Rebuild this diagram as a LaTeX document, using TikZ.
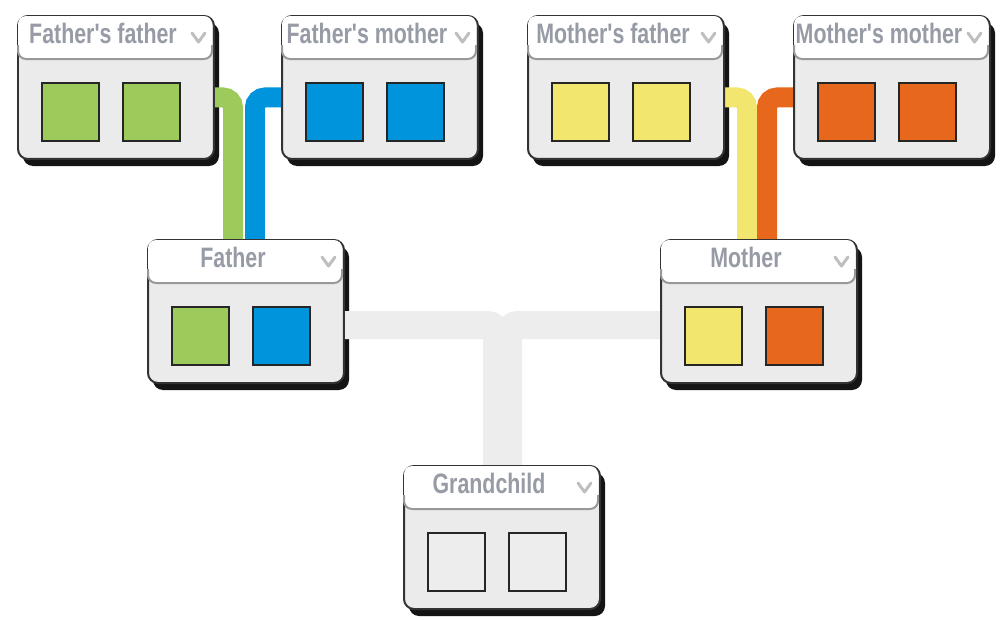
\documentclass[tikz,border=0pt]{standalone}
\usepackage{fontspec}
\newfontfamily\boxfont[FakeStretch=0.76]{Liberation Sans}
\usetikzlibrary{calc}
\pgfdeclarelayer{background}
\pgfdeclarelayer{paper}
\pgfsetlayers{paper,background,main}
\definecolor{leafgreen}{HTML}{9CCB5C}
\definecolor{skyblue}{HTML}{0094DC}
\definecolor{sunyellow}{HTML}{F2E66E}
\definecolor{rustorange}{HTML}{E7681D}
\definecolor{linkgray}{HTML}{EDEDED}
\definecolor{bodygray}{HTML}{EBEBEB}
\definecolor{labelgray}{HTML}{979BA5}
\tikzset{
  box/.style={draw=black!80, fill=bodygray, line width=0.2mm, rounded corners=1mm,
    minimum width=19.6mm, minimum height=14.3mm, inner sep=0pt, anchor=north west},
  shadowbox/.style={fill=black!92, rounded corners=1mm},
  headrule/.style={draw=black!40, line width=0.2mm, rounded corners=0.8mm},
  swatch/.style={draw=black!85, line width=0.25mm},
  caption/.style={font=\boxfont\bfseries\fontsize{8}{9}\selectfont, text=labelgray, inner sep=0pt},
  chevron/.style={draw=black!25, line width=0.3mm, line cap=round, line join=round},
  link/.style={line width=2mm, rounded corners=1mm},
}
% one person card: name, top left corner (px), label, two colours
\def\person(#1)(#2,#3)#4#5#6{%
  \begin{pgfonlayer}{background}
    \fill[shadowbox] (#2+6,#3+8) rectangle ++(196,143);
  \end{pgfonlayer}
  \node[box] (#1) at (#2,#3) {};
  \fill[white, rounded corners=0.8mm] (#2+1,#3+1) rectangle (#2+195,#3+44);
  \draw[headrule] (#2+1,#3+30) |- (#2+98,#3+44) -| (#2+195,#3+30);
  \draw[swatch, fill=#5] (#2+25,#3+68) rectangle ++(57,58);
  \draw[swatch, fill=#6] (#2+106,#3+68) rectangle ++(57,58);
  \node[caption] (#1-name) at (#2+86,#3+18) {#4};
  \draw[chevron] (#2+175,#3+18) -- (#2+181.5,#3+27) -- (#2+188,#3+18);
}

\begin{document}
\begin{tikzpicture}[x=0.1mm,y=-0.1mm]
  \begin{pgfonlayer}{paper}
    \fill[white] (0,0) rectangle (1000,620);
  \end{pgfonlayer}
  \useasboundingbox (0,0) rectangle (1000,620);

  %%%%% cards %%%%%
  \person(ff)(17,15){Father's father}{leafgreen}{leafgreen}
  \person(fm)(281,15){Father's mother}{skyblue}{skyblue}
  \person(mf)(527,15){Mother's father}{sunyellow}{sunyellow}
  \person(mm)(793,15){Mother's mother}{rustorange}{rustorange}

  \person(fa)(147,239){Father}{leafgreen}{skyblue}
  \person(mo)(660,239){Mother}{sunyellow}{rustorange}

  \person(gc)(403,465){Grandchild}{black!7}{black!7}

  %%%%% links %%%%%
  \begin{pgfonlayer}{background}
    \draw[link, leafgreen] ([yshift=-1mm]ff.east) -| ([xshift=8.6mm]fa.north west);
    \draw[link, skyblue] ([yshift=-1mm]fm.west) -| ([xshift=10.8mm]fa.north west);
    \draw[link, sunyellow] ([yshift=-1mm]mf.east) -| ([xshift=8.7mm]mo.north west);
    \draw[link, rustorange] ([yshift=-1mm]mm.west) -| ([xshift=10.7mm]mo.north west);

    \draw[link, linkgray, line width=2.8mm] ([yshift=-1.35mm]fa.east) -| ([xshift=9.4mm]gc.north west);
    \draw[link, linkgray, line width=2.8mm] ([yshift=-1.35mm]mo.west) -| ([xshift=10.5mm]gc.north west);
  \end{pgfonlayer}
\end{tikzpicture}
\end{document}
